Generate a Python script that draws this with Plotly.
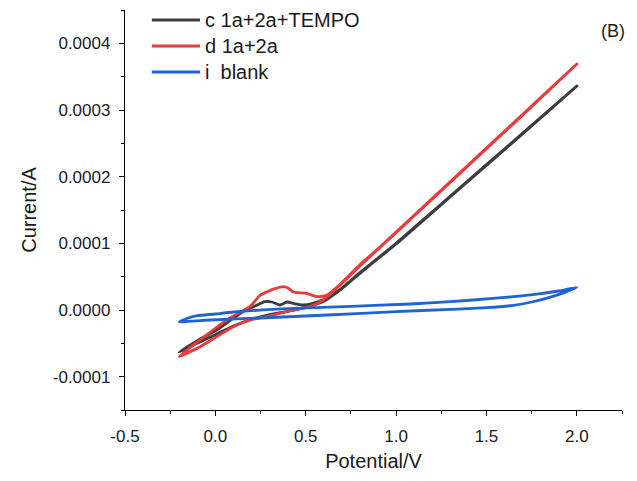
import plotly.graph_objects as go

# ---- data (Potential in V, Current in A) ----
# c 1a+2a+TEMPO : forward scan then reverse scan
c_fwd_v = [-0.20, -0.10, 0.007, 0.10, 0.153, 0.219, 0.275, 0.313, 0.357, 0.396, 0.43, 0.485, 0.54, 0.616, 0.70, 0.80, 0.90, 1.00, 1.25, 1.50, 1.75, 2.00]
c_fwd_i = [-6.3e-5, -4.6e-5, -3.0e-5, -1.2e-5, -0.25e-5, 0.6e-5, 1.24e-5, 1.2e-5, 0.75e-5, 1.2e-5, 1.0e-5, 0.75e-5, 1.0e-5, 1.8e-5, 3.3e-5, 5.6e-5, 7.8e-5, 1.0e-4, 1.59e-4, 2.18e-4, 2.77e-4, 3.36e-4]
c_rev_v = [2.00, 1.75, 1.50, 1.25, 1.00, 0.90, 0.80, 0.70, 0.60, 0.50, 0.40, 0.30, 0.20, 0.10, 0.00, -0.10, -0.20]
c_rev_i = [3.36e-4, 2.76e-4, 2.17e-4, 1.58e-4, 9.9e-5, 7.7e-5, 5.5e-5, 3.2e-5, 1.3e-5, 0.4e-5, -0.2e-5, -0.7e-5, -1.4e-5, -2.4e-5, -3.7e-5, -5.0e-5, -6.3e-5]

# d 1a+2a
d_fwd_v = [-0.20, -0.085, 0.007, 0.099, 0.191, 0.247, 0.284, 0.33, 0.376, 0.402, 0.431, 0.505, 0.561, 0.616, 0.70, 0.80, 0.90, 1.00, 1.25, 1.50, 1.75, 2.00]
d_fwd_i = [-6.97e-5, -4.5e-5, -2.6e-5, -0.9e-5, 0.5e-5, 2.2e-5, 2.7e-5, 3.2e-5, 3.5e-5, 3.3e-5, 2.7e-5, 2.5e-5, 2.0e-5, 2.2e-5, 4.1e-5, 6.8e-5, 9.2e-5, 1.17e-4, 1.80e-4, 2.43e-4, 3.06e-4, 3.69e-4]
d_rev_v = [2.00, 1.75, 1.50, 1.25, 1.00, 0.80, 0.70, 0.62, 0.579, 0.524, 0.43, 0.284, 0.191, 0.099, 0.007, -0.085, -0.20]
d_rev_i = [3.69e-4, 3.05e-4, 2.42e-4, 1.79e-4, 1.16e-4, 6.6e-5, 4.0e-5, 2.0e-5, 1.2e-5, 0.5e-5, 0.0, -1.0e-5, -1.5e-5, -2.5e-5, -4.0e-5, -5.5e-5, -6.97e-5]

# i blank
i_fwd_v = [-0.20, -0.15, -0.10, 0.00, 0.10, 0.43, 0.75, 1.08, 1.30, 1.52, 1.65, 1.80, 1.90, 2.00]
i_fwd_i = [-1.8e-5, -1.2e-5, -0.85e-5, -0.6e-5, -0.3e-5, 0.25e-5, 0.55e-5, 0.9e-5, 1.25e-5, 1.7e-5, 2.0e-5, 2.45e-5, 2.85e-5, 3.4e-5]
i_rev_v = [2.00, 1.93, 1.85, 1.75, 1.65, 1.50, 1.30, 1.00, 0.62, 0.25, -0.03, -0.15, -0.20]
i_rev_i = [3.4e-5, 2.6e-5, 1.9e-5, 1.2e-5, 0.7e-5, 0.35e-5, 0.1e-5, -0.25e-5, -0.75e-5, -1.2e-5, -1.5e-5, -1.7e-5, -1.8e-5]

names = ["c 1a+2a+TEMPO", "d 1a+2a", "i  blank"]
colors = ["#3d3d3d", "#ea3a3a", "#1f63d6"]

x_ticks = [-0.5, 0.0, 0.5, 1.0, 1.5, 2.0]
x_labels = ["-0.5", "0.0", "0.5", "1.0", "1.5", "2.0"]
x_minor = [-0.25, 0.25, 0.75, 1.25, 1.75, 2.25]
y_ticks = [-0.0001, 0.0, 0.0001, 0.0002, 0.0003, 0.0004]
y_labels = ["-0.0001", "0.0000", "0.0001", "0.0002", "0.0003", "0.0004"]
y_minor = [-0.00015, -0.00005, 0.00005, 0.00015, 0.00025, 0.00035, 0.00045]

series = [
    (c_fwd_v + c_rev_v[1:], c_fwd_i + c_rev_i[1:]),
    (d_fwd_v + d_rev_v[1:], d_fwd_i + d_rev_i[1:]),
    (i_fwd_v + i_rev_v[1:], i_fwd_i + i_rev_i[1:]),
]

fig = go.Figure()
for (xv, yv), nm, col in zip(series, names, colors):
    fig.add_trace(go.Scatter(x=xv, y=yv, mode="lines", name=nm, showlegend=False,
                             line=dict(color=col, width=2.8, shape="spline", smoothing=0.6)))

FONT = "Arial, Liberation Sans, sans-serif"
TXT = "#1a1a1a"
axis_common = dict(showline=True, linecolor="black", linewidth=1.3, ticks="outside",
                   ticklen=5, tickwidth=1.3, tickcolor="black", showgrid=False,
                   zeroline=False, mirror=False,
                   tickfont=dict(family=FONT, size=17, color=TXT),
                   minor=dict(ticks="outside", ticklen=3, tickwidth=1.2, tickcolor="black", showgrid=False))

# legend drawn as sample lines + labels (top-left of the plot area)
leg_y = [0.975, 0.91, 0.845]
shapes = []
annotations = []
for nm, col, yy in zip(names, colors, leg_y):
    shapes.append(dict(type="line", xref="paper", yref="paper", x0=0.054, x1=0.151, y0=yy, y1=yy,
                       line=dict(color=col, width=2.8)))
    annotations.append(dict(text=nm, x=0.157, y=yy, xref="paper", yref="paper", xanchor="left",
                            yanchor="middle", showarrow=False, font=dict(family=FONT, size=20, color=TXT)))
annotations.append(dict(text="(B)", x=0.982, y=0.9475, xref="paper", yref="paper", xanchor="center",
                        yanchor="middle", showarrow=False, font=dict(family=FONT, size=18, color=TXT)))

fig.update_layout(
    width=621, height=465,
    margin=dict(l=117, r=7, t=2, b=63),
    paper_bgcolor="white", plot_bgcolor="white",
    font=dict(family=FONT, color=TXT),
    showlegend=False,
    xaxis=dict(range=[-0.5, 2.25], tickvals=x_ticks, ticktext=x_labels, ticklabelstandoff=5,
               title=dict(text="Potential/V", font=dict(family=FONT, size=20, color=TXT), standoff=9),
               **axis_common),
    yaxis=dict(range=[-0.00015, 0.00045], tickvals=y_ticks, ticktext=y_labels, ticklabelstandoff=5,
               title=dict(text="Current/A", font=dict(family=FONT, size=20, color=TXT), standoff=10),
               **axis_common),
    shapes=shapes,
    annotations=annotations,
)
fig.update_xaxes(minor=dict(tickvals=x_minor))
fig.update_yaxes(minor=dict(tickvals=y_minor))

fig.write_html("out.html")
